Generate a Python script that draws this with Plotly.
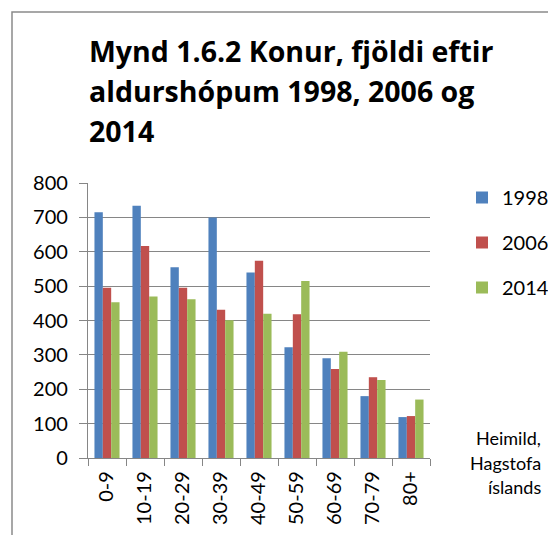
import plotly.graph_objects as go

categories = ["0-9", "10-19", "20-29", "30-39", "40-49", "50-59", "60-69", "70-79", "80+"]
v1998 = [715, 734, 555, 700, 540, 322, 290, 180, 119]
v2006 = [495, 617, 495, 431, 574, 418, 259, 235, 122]
v2014 = [453, 470, 462, 401, 420, 515, 309, 227, 170]
series_names = ["1998", "2006", "2014"]
colors = ["#4F81BD", "#C0504D", "#9BBB59"]
title_lines = ["Mynd 1.6.2 Konur, fjöldi eftir", "aldurshópum 1998, 2006 og", "2014"]
source_lines = ["Heimild,", "Hagstofa", "íslands"]

OFF = 8  # page body margin
W, H = 556 - OFF, 535 - OFF
L, R, T, B = 88 - OFF, 126, 183 - OFF, 77
FONT = "Lato"

fig = go.Figure()
for name, vals, col in zip(series_names, [v1998, v2006, v2014], colors):
    fig.add_trace(go.Bar(x=categories, y=vals, name=name, marker_color=col,
                         marker_line_width=0, legendgroup=name))

pw = W - L - R
ph = H - T - B
def px_x(x):  # screen x -> paper
    return (x - OFF - L) / pw
def px_y(y):  # screen y -> paper
    return (H - B - (y - OFF)) / ph
def cx(x):  # screen x -> container
    return (x - OFF) / W
def cy(y):  # screen y -> container
    return (H - (y - OFF)) / H

fig.update_layout(
    width=W, height=H,
    margin=dict(l=L, r=R, t=T, b=B, pad=0, autoexpand=False),
    paper_bgcolor="white", plot_bgcolor="white",
    barmode="group", bargap=0.34, bargroupgap=0,
    font=dict(family=FONT, size=20, color="black"),
    showlegend=True,
    legend=dict(x=cx(462), xref="container", xanchor="left",
                y=cy(178), yref="container", yanchor="top",
                font=dict(size=20, family=FONT), tracegroupgap=16,
                itemwidth=30, bgcolor="rgba(0,0,0,0)"),
)
fig.update_xaxes(showline=True, linecolor="#868686", linewidth=1.3,
                 ticks="outside", tickson="boundaries", ticklen=7, tickcolor="#868686",
                 tickwidth=1.3, tickangle=-90, tickfont=dict(size=20, family=FONT),
                 ticklabelstandoff=4, showgrid=False)
fig.update_yaxes(range=[0, 800], dtick=100, showline=True, linecolor="#868686", linewidth=1.3,
                 ticks="outside", ticklen=8, tickcolor="#868686", tickwidth=1.3,
                 ticklabelstandoff=7,
                 showgrid=True, gridcolor="#868686", gridwidth=1.3, zeroline=False,
                 tickfont=dict(size=20, family=FONT))

for i, line in enumerate(title_lines):
    fig.add_annotation(text="<b>%s</b>" % line, xref="paper", yref="paper",
                       x=px_x(87), y=px_y(51 + 40 * i), xanchor="left", yanchor="middle",
                       showarrow=False, font=dict(size=28.5, family="Open Sans", color="black"))

for i, line in enumerate(source_lines):
    fig.add_annotation(text=line, xref="paper", yref="paper",
                       x=px_x(543), y=px_y(438 + 24.5 * i), xanchor="right", yanchor="middle",
                       showarrow=False, font=dict(size=18, family=FONT, color="black"))

# outer frame
fig.add_shape(type="path", xref="paper", yref="paper",
              path="M %f %f L %f %f L %f %f" % (px_x(12), px_y(H + 20), px_x(12), px_y(12), px_x(W + 20), px_y(12)),
              line=dict(color="#8a8a8a", width=1.5))

fig.write_html("out.html")
